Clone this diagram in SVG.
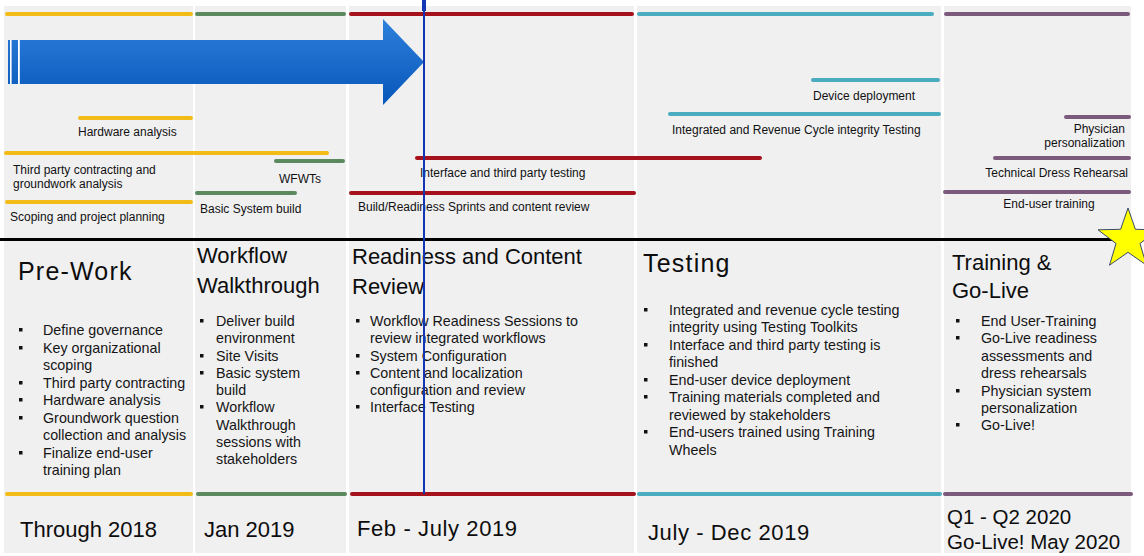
<svg xmlns="http://www.w3.org/2000/svg" width="1144" height="556" viewBox="0 0 1144 556">
<defs>
<linearGradient id="arrowGrad" x1="0" y1="0" x2="0" y2="1">
<stop offset="0" stop-color="#2e80dc"/>
<stop offset="1" stop-color="#0756ba"/>
</linearGradient>
</defs>
<style>
.bg{fill:#f0f0f1}
.bar{stroke-width:4;stroke-linecap:round;fill:none}
.y{stroke:#f2bb18}.g{stroke:#5b8a5f}.r{stroke:#a5121b}.t{stroke:#4aacbf}.p{stroke:#7b5a7c}
.lbl{font-family:"Liberation Sans",Arial,sans-serif;font-size:12px;fill:#111}
.hd{font-family:"Liberation Sans",Arial,sans-serif;font-size:22px;fill:#0d0d0d}
.hd2{font-family:"Liberation Sans",Arial,sans-serif;font-size:25px;letter-spacing:1.2px;fill:#0d0d0d}
.bl{font-family:"Liberation Sans",Arial,sans-serif;font-size:14.3px;fill:#151515}
.dt{font-family:"Liberation Sans",Arial,sans-serif;font-size:22px;fill:#0d0d0d}
.dt2{font-family:"Liberation Sans",Arial,sans-serif;font-size:20.5px;fill:#0d0d0d}
.dot{fill:#111}
</style>
<rect width="1144" height="556" fill="#ffffff"/>
<g id="columns">
<rect class="bg" x="4" y="6" width="189" height="547"/>
<rect class="bg" x="195" y="6" width="151" height="547"/>
<rect class="bg" x="349" y="6" width="285" height="547"/>
<rect class="bg" x="637" y="6" width="304" height="547"/>
<rect class="bg" x="944" y="6" width="187" height="547"/>
</g>
<g id="phase-lines">
<line class="bar y" x1="7" y1="14" x2="191" y2="14"/>
<line class="bar g" x1="197" y1="14" x2="344" y2="14"/>
<line class="bar r" x1="351" y1="14" x2="632" y2="14"/>
<line class="bar t" x1="639" y1="14" x2="932" y2="14"/>
<line class="bar p" x1="946" y1="14" x2="1128" y2="14"/>
<line class="bar y" x1="7" y1="494" x2="191" y2="494"/>
<line class="bar g" x1="198" y1="494" x2="345" y2="494"/>
<line class="bar r" x1="352" y1="494" x2="634" y2="494"/>
<line class="bar t" x1="639" y1="494" x2="940" y2="494"/>
<line class="bar p" x1="945" y1="494" x2="1131" y2="494"/>
</g>
<g id="progress-arrow">
<path d="M8,40 H383 V19 L424,62 L383,105 V84 H8 Z" fill="url(#arrowGrad)"/>
<rect x="10" y="40" width="1.6" height="44" fill="#ffffff"/>
<rect x="18" y="40" width="1.8" height="44" fill="#ffffff"/>
</g>
<g id="bar-hardware"><line class="bar y" x1="80" y1="118" x2="191" y2="118"/><text class="lbl" x="78" y="136">Hardware analysis</text></g>
<g id="bar-thirdparty"><line class="bar y" x1="6" y1="153" x2="327" y2="153"/><text class="lbl" x="13" y="174">Third party contracting and</text><text class="lbl" x="13" y="188">groundwork analysis</text></g>
<g id="bar-scoping"><line class="bar y" x1="7" y1="202" x2="191" y2="202"/><text class="lbl" x="10" y="221">Scoping and project planning</text></g>
<g id="bar-wfwts"><line class="bar g" x1="276" y1="161" x2="343" y2="161"/><text class="lbl" x="279" y="183">WFWTs</text></g>
<g id="bar-basic"><line class="bar g" x1="197" y1="193" x2="295" y2="193"/><text class="lbl" x="200" y="213">Basic System build</text></g>
<g id="bar-interface"><line class="bar r" x1="417" y1="158" x2="760" y2="158"/><text class="lbl" x="420" y="177">Interface and third party testing</text></g>
<g id="bar-build"><line class="bar r" x1="351" y1="193" x2="634" y2="193"/><text class="lbl" x="358" y="211">Build/Readiness Sprints and content review</text></g>
<g id="bar-device"><line class="bar t" x1="813" y1="80" x2="938" y2="80"/><text class="lbl" x="813" y="100">Device deployment</text></g>
<g id="bar-integrated"><line class="bar t" x1="670" y1="114" x2="939" y2="114"/><text class="lbl" x="672" y="134">Integrated and Revenue Cycle integrity Testing</text></g>
<g id="bar-physician"><line class="bar p" x1="1066" y1="117" x2="1129" y2="117"/><text class="lbl" x="1125" y="133" text-anchor="end">Physician</text><text class="lbl" x="1125" y="147" text-anchor="end">personalization</text></g>
<g id="bar-dress"><line class="bar p" x1="995" y1="158" x2="1129" y2="158"/><text class="lbl" x="1128" y="177" text-anchor="end">Technical Dress Rehearsal</text></g>
<g id="bar-enduser"><line class="bar p" x1="945" y1="192" x2="1129" y2="192"/><text class="lbl" x="1049" y="208" text-anchor="middle">End-user training</text></g>
<g id="divider"><rect x="0" y="238" width="1144" height="3" fill="#000"/></g>
<g id="phase-prework">
<text class="hd2" x="18" y="280">Pre-Work</text>
<rect class="dot" x="19" y="328" width="3.5" height="3.5"/><text class="bl" x="43" y="335">Define governance</text>
<rect class="dot" x="19" y="346" width="3.5" height="3.5"/><text class="bl" x="43" y="353">Key organizational</text>
<text class="bl" x="43" y="370">scoping</text>
<rect class="dot" x="19" y="381" width="3.5" height="3.5"/><text class="bl" x="43" y="388">Third party contracting</text>
<rect class="dot" x="19" y="398" width="3.5" height="3.5"/><text class="bl" x="43" y="405">Hardware analysis</text>
<rect class="dot" x="19" y="416" width="3.5" height="3.5"/><text class="bl" x="43" y="423">Groundwork question</text>
<text class="bl" x="43" y="440">collection and analysis</text>
<rect class="dot" x="19" y="451" width="3.5" height="3.5"/><text class="bl" x="43" y="458">Finalize end-user</text>
<text class="bl" x="43" y="475">training plan</text>
<text class="dt" x="20" y="537">Through 2018</text>
</g>
<g id="phase-workflow">
<text class="hd" x="197" y="263">Workflow</text>
<text class="hd" x="197" y="293">Walkthrough</text>
<rect class="dot" x="200" y="319" width="3.5" height="3.5"/><text class="bl" x="216" y="326">Deliver build</text>
<text class="bl" x="216" y="343">environment</text>
<rect class="dot" x="200" y="354" width="3.5" height="3.5"/><text class="bl" x="216" y="361">Site Visits</text>
<rect class="dot" x="200" y="371" width="3.5" height="3.5"/><text class="bl" x="216" y="378">Basic system</text>
<text class="bl" x="216" y="395">build</text>
<rect class="dot" x="200" y="405" width="3.5" height="3.5"/><text class="bl" x="216" y="412">Workflow</text>
<text class="bl" x="216" y="430">Walkthrough</text>
<text class="bl" x="216" y="447">sessions with</text>
<text class="bl" x="216" y="464">stakeholders</text>
<text class="dt" x="204" y="537">Jan 2019</text>
</g>
<g id="phase-readiness">
<text class="hd" x="352" y="264">Readiness and Content</text>
<text class="hd" x="352" y="294">Review</text>
<rect class="dot" x="356" y="319" width="3.5" height="3.5"/><text class="bl" x="370" y="326">Workflow Readiness Sessions to</text>
<text class="bl" x="370" y="343">review integrated workflows</text>
<rect class="dot" x="356" y="354" width="3.5" height="3.5"/><text class="bl" x="370" y="361">System Configuration</text>
<rect class="dot" x="356" y="371" width="3.5" height="3.5"/><text class="bl" x="370" y="378">Content and localization</text>
<text class="bl" x="370" y="395">configuration and review</text>
<rect class="dot" x="356" y="405" width="3.5" height="3.5"/><text class="bl" x="370" y="412">Interface Testing</text>
<text class="dt" x="357" y="536" style="letter-spacing:0.6px">Feb - July 2019</text>
</g>
<g id="phase-testing">
<text class="hd2" x="643" y="272">Testing</text>
<rect class="dot" x="644" y="308" width="3.5" height="3.5"/><text class="bl" x="669" y="315">Integrated and revenue cycle testing</text>
<text class="bl" x="669" y="332">integrity using Testing Toolkits</text>
<rect class="dot" x="644" y="343" width="3.5" height="3.5"/><text class="bl" x="669" y="350">Interface and third party testing is</text>
<text class="bl" x="669" y="367">finished</text>
<rect class="dot" x="644" y="378" width="3.5" height="3.5"/><text class="bl" x="669" y="385">End-user device deployment</text>
<rect class="dot" x="644" y="395" width="3.5" height="3.5"/><text class="bl" x="669" y="402">Training materials completed and</text>
<text class="bl" x="669" y="420">reviewed by stakeholders</text>
<rect class="dot" x="644" y="430" width="3.5" height="3.5"/><text class="bl" x="669" y="437">End-users trained using Training</text>
<text class="bl" x="669" y="455">Wheels</text>
<text class="dt" x="648" y="540" style="letter-spacing:0.6px">July - Dec 2019</text>
</g>
<g id="phase-golive">
<text class="hd" x="952" y="270">Training &amp;</text>
<text class="hd" x="952" y="298">Go-Live</text>
<rect class="dot" x="956" y="319" width="3.5" height="3.5"/><text class="bl" x="981" y="326">End User-Training</text>
<rect class="dot" x="956" y="336" width="3.5" height="3.5"/><text class="bl" x="981" y="343">Go-Live readiness</text>
<text class="bl" x="981" y="361">assessments and</text>
<text class="bl" x="981" y="378">dress rehearsals</text>
<rect class="dot" x="956" y="389" width="3.5" height="3.5"/><text class="bl" x="981" y="396">Physician system</text>
<text class="bl" x="981" y="413">personalization</text>
<rect class="dot" x="956" y="423" width="3.5" height="3.5"/><text class="bl" x="981" y="430">Go-Live!</text>
<text class="dt2" x="947" y="524">Q1 - Q2 2020</text>
<text class="dt2" x="947" y="549">Go-Live! May 2020</text>
</g>
<g id="connectors">
<line x1="424" y1="0" x2="424" y2="494" stroke="#1436b4" stroke-width="2"/>
<rect x="422" y="0" width="4" height="11" fill="#1436b4"/>
</g>
<g id="golive-star">
<polygon points="1128,208 1135.4,229.3 1158,229.8 1140,243.5 1146.5,265.2 1128,252.3 1109.5,265.2 1116,243.5 1098,229.8 1120.6,229.3" fill="#ffff00" stroke="#3a4a6a" stroke-width="1"/>
</g>
</svg>
